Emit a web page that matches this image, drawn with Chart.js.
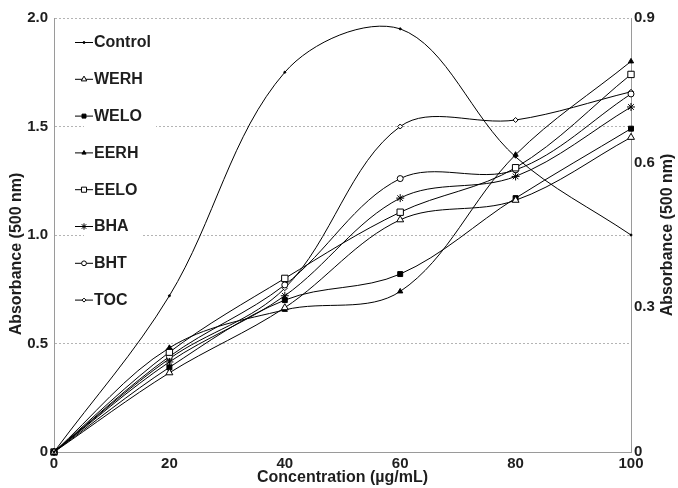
<!DOCTYPE html>
<html>
<head>
<meta charset="utf-8">
<script src="https://cdn.jsdelivr.net/npm/chart.js@4/dist/chart.umd.min.js"></script>
<style>
  html, body { margin: 0; padding: 0; background: #fff; }
  #wrap { width: 678px; height: 488px; }
</style>
</head>
<body>
<div id="wrap"><canvas id="chart"></canvas></div>
<script>
// Concentración (µg/mL)
const concentrations = [0, 20, 40, 60, 80, 100];

// Absorbancia a 500 nm para cada muestra
const control = [0, 0.72, 1.75, 1.95, 1.36, 1.0];
const werh = [0, 0.365, 0.665, 1.07, 1.16, 1.45];
const welo = [0, 0.39, 0.70, 0.82, 1.17, 1.49];
const eerh = [0, 0.48, 0.655, 0.74, 1.37, 1.80];
const eelo = [0, 0.46, 0.80, 1.105, 1.31, 1.74];
const bha = [0, 0.415, 0.72, 1.17, 1.27, 1.59];
const bht = [0, 0.44, 0.77, 1.26, 1.30, 1.65];
const toc = [0, 0.43, 0.755, 1.50, 1.53, 1.66];

const leftTicks = [0, 0.5, 1.0, 1.5, 2.0];
const rightTicks = [0, 0.3, 0.6, 0.9];

const FONT = '"Liberation Sans", Arial, Helvetica, sans-serif';
const INK = '#1e1e1e';

function serie(label, data, style, radius, filled) {
  return {
    label: label,
    data: data,
    borderColor: '#000',
    borderWidth: 1,
    tension: 0.35,
    pointStyle: style,
    pointRadius: radius,
    pointHoverRadius: radius,
    pointBorderWidth: 1,
    pointBorderColor: '#000',
    pointBackgroundColor: filled ? '#000' : '#fff',
    yAxisID: 'y',
    clip: false,
  };
}

// Leyenda dentro del área de la gráfica, con fondo blanco sobre la rejilla
const leyenda = {
  id: 'leyenda',
  beforeDatasetsDraw(chart) {
    const ctx = chart.ctx;
    const area = chart.chartArea;
    const x0 = area.left + 21;
    const y0 = area.top + 24;
    const step = 36.8;
    ctx.save();
    ctx.font = 'bold 16px ' + FONT;
    ctx.textBaseline = 'middle';
    chart.data.datasets.forEach((ds, i) => {
      const y = y0 + i * step;
      const w = ctx.measureText(ds.label).width;
      ctx.fillStyle = '#fff';
      ctx.fillRect(x0 + 9, y - 12, w + 24, 24);
      ctx.strokeStyle = '#000';
      ctx.lineWidth = 1;
      ctx.beginPath();
      ctx.moveTo(x0, y + 0.5);
      ctx.lineTo(x0 + 18, y + 0.5);
      ctx.stroke();
      ctx.fillStyle = ds.pointBackgroundColor;
      Chart.helpers.drawPoint(ctx, {
        pointStyle: ds.pointStyle,
        radius: Math.max(1, ds.pointRadius * 0.8),
        rotation: 0,
        borderWidth: 1,
      }, x0 + 9, y + 0.5);
      ctx.fillStyle = INK;
      ctx.textAlign = 'left';
      ctx.fillText(ds.label, x0 + 19, y + 1);
    });
    ctx.restore();
  },
  afterDraw(chart) {
    const ctx = chart.ctx;
    const area = chart.chartArea;
    const mid = (area.top + area.bottom) / 2;
    ctx.save();
    ctx.font = 'bold 16px ' + FONT;
    ctx.fillStyle = INK;
    ctx.textAlign = 'center';
    ctx.textBaseline = 'middle';
    // título eje izquierdo
    ctx.save();
    ctx.translate(17, mid + 19);
    ctx.rotate(-Math.PI / 2);
    ctx.fillText('Absorbance (500 nm)', 0, 0);
    ctx.restore();
    // título eje derecho
    ctx.save();
    ctx.translate(chart.width - 10, mid);
    ctx.rotate(-Math.PI / 2);
    ctx.fillText('Absorbance (500 nm)', 0, 0);
    ctx.restore();
    ctx.restore();
  }
};

const ctx = document.getElementById('chart').getContext('2d');
new Chart(ctx, {
  type: 'line',
  data: {
    labels: concentrations,
    datasets: [
      serie('Control', control, 'circle', 1, true),
      serie('WERH', werh, 'triangle', 4, false),
      serie('WELO', welo, 'rect', 3.5, true),
      serie('EERH', eerh, 'triangle', 3, true),
      serie('EELO', eelo, 'rect', 4.5, false),
      serie('BHA', bha, 'star', 4, false),
      serie('BHT', bht, 'circle', 3, false),
      serie('TOC', toc, 'rectRot', 2.5, false),
    ]
  },
  options: {
    responsive: true,
    maintainAspectRatio: false,
    animation: false,
    layout: { padding: { top: 18, left: 0, right: 0, bottom: 0 } },
    plugins: {
      legend: { display: false },
      tooltip: { enabled: false },
    },
    scales: {
      x: {
        type: 'category',
        offset: false,
        grid: { display: false, drawTicks: false },
        border: { display: true, color: '#9a9a9a', width: 1 },
        ticks: {
          color: INK,
          font: { family: FONT, size: 15, weight: 'bold' },
          padding: 3,
          maxRotation: 0,
        },
        title: {
          display: true,
          text: 'Concentration (µg/mL)',
          color: INK,
          font: { family: FONT, size: 16, weight: 'bold' },
          padding: { top: 0, bottom: 1 },
        },
        afterFit(scale) { scale.height = 36; },
      },
      y: {
        position: 'left',
        min: 0,
        max: 2.0,
        afterBuildTicks(scale) { scale.ticks = leftTicks.map(v => ({ value: v })); },
        grid: {
          color: (c) => c.tick && c.tick.value === 0 ? 'rgba(0,0,0,0)' : '#b4b4b4',
          drawTicks: false,
          lineWidth: 1,
        },
        border: { display: true, color: '#9a9a9a', width: 1, dash: [2, 2] },
        ticks: {
          color: INK,
          font: { family: FONT, size: 15, weight: 'bold' },
          padding: 6,
          callback: (v) => v === 0 ? '0' : v.toFixed(1),
        },
        afterFit(scale) { scale.width = 54; },
      },
      y2: {
        position: 'right',
        min: 0,
        max: 0.9,
        afterBuildTicks(scale) { scale.ticks = rightTicks.map(v => ({ value: v })); },
        grid: { display: false, drawTicks: false },
        border: { display: true, color: '#9a9a9a', width: 1 },
        ticks: {
          color: INK,
          font: { family: FONT, size: 15, weight: 'bold' },
          padding: 3,
          callback: (v) => v === 0 ? '0' : v.toFixed(1),
        },
        afterFit(scale) { scale.width = 47; },
      },
    },
  },
  plugins: [leyenda],
});
</script>
</body>
</html>
